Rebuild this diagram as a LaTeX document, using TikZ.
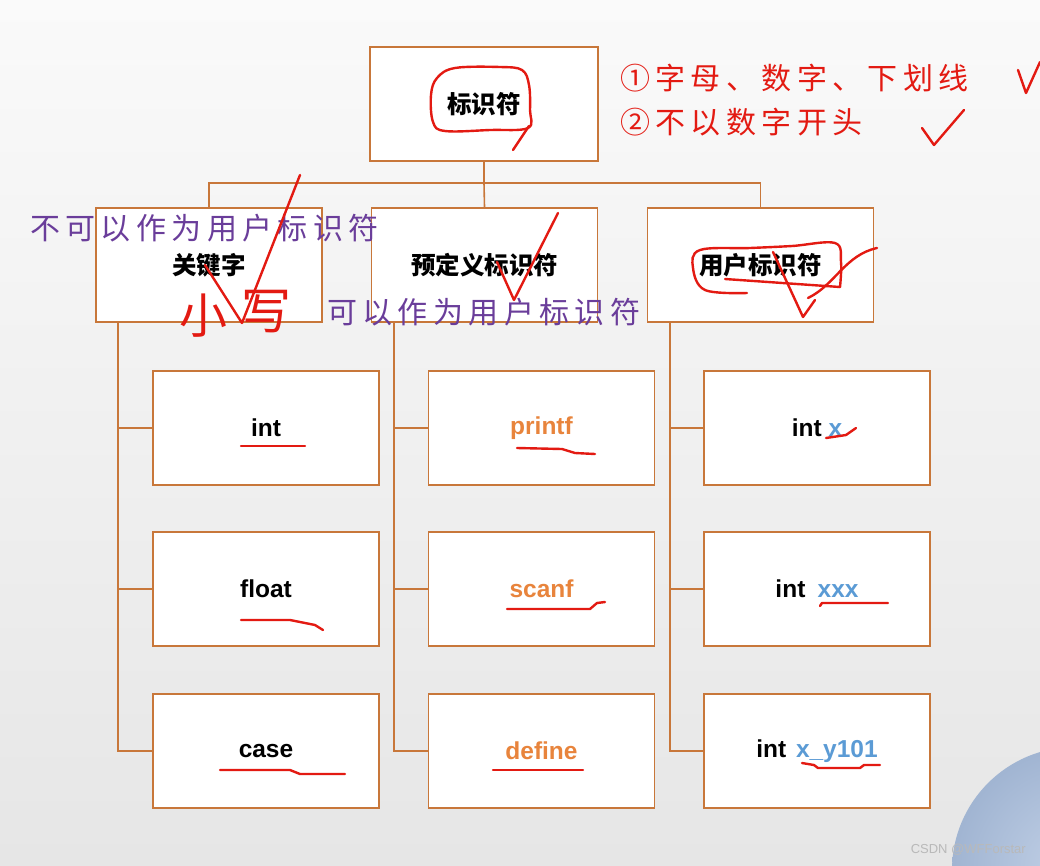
\documentclass[tikz,border=0pt]{standalone}
\usepackage{fontspec}
\setmainfont{Liberation Sans}
\newfontfamily\cjk{Noto Sans CJK SC}
\newfontfamily\handf[LetterSpace=18]{Noto Sans CJK SC}
\usetikzlibrary{calc}
\definecolor{boxc}{HTML}{C8773A}
\definecolor{orangetxt}{HTML}{E8843C}
\definecolor{bluetxt}{HTML}{5B9BD5}
\definecolor{pen}{HTML}{E31A12}
\definecolor{purp}{HTML}{6A3D9A}
\definecolor{bgtop}{HTML}{FAFAFA}
\definecolor{bgbot}{HTML}{E6E6E6}
\definecolor{ball}{HTML}{A9BEDD}
\begin{document}
\begin{tikzpicture}[x=1pt,y=-1pt,
  box/.style={draw=boxc,line width=1.6pt,fill=white,minimum width=226pt,minimum height=114pt,inner sep=0pt,font=\fontsize{24.5}{26}\selectfont\bfseries},
  link/.style={draw=boxc,line width=1.6pt},
  ink/.style={draw=pen,line width=2.4pt,line cap=round,line join=round},
  hand/.style={font=\handf\fontsize{30}{34}\selectfont,inner sep=0pt},
]
\useasboundingbox (0,0) rectangle (1040,865);
\fill[top color=bgtop,bottom color=bgbot] (0,0) rectangle (1040,865);
\begin{scope}
\clip (0,0) rectangle (1040,865);
\shade[inner color=ball!70,outer color=ball!95!black] (1075,870) circle (123);
\end{scope}

% top level
\node[box,minimum width=228pt] (top) at (484,104) {\cjk\bfseries 标识符};
% second level
\node[box] (k) at (209,265) {\cjk\bfseries 关键字};
\node[box] (p) at (484.5,265) {\cjk\bfseries 预定义标识符};
\node[box] (u) at (760.5,265) {\cjk\bfseries 用户标识符};
% third level
\node[box] (k1) at (266,428) {int};
\node[box] (k2) at (266,589) {float};
\node[box] (k3) at (266,751) {case};
\node[box,text=orangetxt] (p1) at (541.5,428) {printf};
\node[box,text=orangetxt] (p2) at (541.5,589) {scanf};
\node[box,text=orangetxt] (p3) at (541.5,751) {define};
\node[box] (u1) at (817,428) {int \textcolor{bluetxt}{x}};
\node[box] (u2) at (817,589) {int\hspace{0.5em}\textcolor{bluetxt}{xxx}};
\node[box] (u3) at (817,751) {int\hspace{0.4em}\textcolor{bluetxt}{x\_y101}};

% connectors
\coordinate (j) at (484,183);
\draw[link] (top.south) -- (j);
\draw[link] (j) -| (k.north);
\draw[link] (j) -| (u.north);
\draw[link] (j) -- (p.north);
\coordinate (kv) at (118,322);
\coordinate (pv) at (394,322);
\coordinate (uv) at (670,322);
\draw[link] (kv) |- (k1.west);
\draw[link] (kv) |- (k2.west);
\draw[link] (kv) |- (k3.west);
\draw[link] (pv) |- (p1.west);
\draw[link] (pv) |- (p2.west);
\draw[link] (pv) |- (p3.west);
\draw[link] (uv) |- (u1.west);
\draw[link] (uv) |- (u2.west);
\draw[link] (uv) |- (u3.west);

% handwritten notes
\node[hand,text=pen,anchor=west] (n1) at (620,78) {①字母、数字、下划线};
\node[hand,text=pen,anchor=west] (n2) at (620,122) {②不以数字开头};
\node[hand,text=purp,anchor=west] (n3) at (30,228) {不可以作为用户标识符};
\node[hand,text=purp,anchor=west] (n4) at (327,312) {可以作为用户标识符};
\node[text=pen,font=\cjk\fontsize{48}{52}\selectfont,inner sep=0pt] (n5) at (203,316) {小};
\node[text=pen,font=\cjk\fontsize{50}{54}\selectfont,inner sep=0pt] (n6) at (266,312) {写};

% ticks and scribbles
\draw[ink] (1018,70) -- (1026,93) -- (1040,62);
\draw[ink] (922,128) -- (934,145) -- (964,110);
\draw[ink] plot[smooth cycle,tension=0.6] coordinates {(455,68) (500,67) (522,70) (529,85) (530,110) (528,128) (490,130) (445,131) (433,122) (431,95) (437,78)};
\draw[ink] (529,126) -- (513,150);
\draw[ink] (497,262) -- (514,300) -- (558,213);
\draw[ink] (205,265) -- (242,323) -- (300,175);
\draw[ink] plot[smooth,tension=0.6] coordinates {(747,293) (705,290) (693,268) (700,250) (750,248) (792,246) (835,243) (841,262) (840,287)};
\draw[ink] (725,279) -- (840,287);
\draw[ink] (773,252) -- (803,317) -- (815,300);
\draw[ink] (808,298) .. controls (835,285) and (845,255) .. (877,248);
% underlines
\draw[ink] (241,446) -- (305,446);
\draw[ink] (517,448) -- (562,449) -- (575,453) -- (595,454);
\draw[ink] (826,438) -- (846,435) -- (856,428);
\draw[ink] (241,620) -- (290,620) -- (315,625) -- (323,630);
\draw[ink] (507,609) -- (590,609) -- (597,603) -- (605,602);
\draw[ink] (820,606) -- (822,603) -- (888,603);
\draw[ink] (220,770) -- (290,770) -- (300,774) -- (345,774);
\draw[ink] (493,770) -- (583,770);
\draw[ink] (802,763) -- (814,765) -- (818,768) -- (860,768) -- (864,765) -- (880,765);

% watermark
\node[anchor=east,text=gray!55,font=\fontsize{13}{14}\selectfont,inner sep=0pt] (wm) at (1026,850) {CSDN @WFForstar};
\end{tikzpicture}
\end{document}
